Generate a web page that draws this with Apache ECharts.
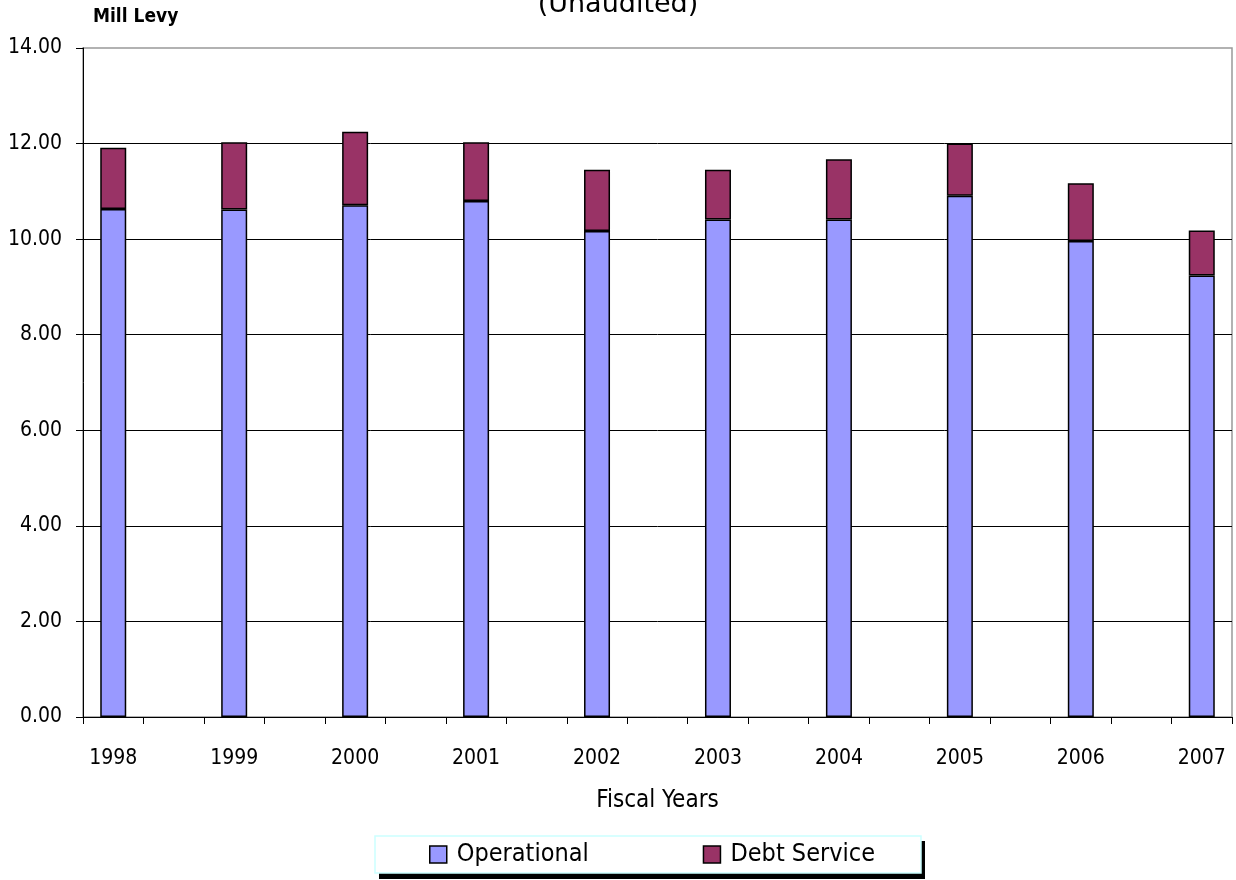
<!DOCTYPE html>
<html>
<head>
<meta charset="utf-8">
<script src="https://cdn.jsdelivr.net/npm/echarts@6/dist/echarts.min.js"></script>
<style>
  html, body { margin: 0; padding: 0; background: #fff; }
  #chart { width: 1236px; height: 880px; }
</style>
</head>
<body>
<div id="chart"></div>
<script>
// ---- data ----
const years = ['1998', '1999', '2000', '2001', '2002', '2003', '2004', '2005', '2006', '2007'];
const operational = [10.63, 10.62, 10.71, 10.80, 10.17, 10.41, 10.41, 10.91, 9.96, 9.24];
const debtService = [1.28, 1.41, 1.54, 1.23, 1.28, 1.04, 1.26, 1.09, 1.21, 0.94];
const yTicks = [0, 2, 4, 6, 8, 10, 12, 14];

// Excel-style layout: each year followed by an empty category slot
const categories = [];
const opSlots = [];
const dsSlots = [];
years.forEach((y, i) => {
  categories.push(y);
  opSlots.push(operational[i]);
  dsSlots.push(debtService[i]);
  if (i < years.length - 1) {
    categories.push('');
    opSlots.push('-');
    dsSlots.push('-');
  }
});

const FONT = "'DejaVu Sans Condensed', 'DejaVu Sans', sans-serif";
const chart = echarts.init(document.getElementById('chart'), null, { renderer: 'canvas' });

chart.setOption({
  animation: false,
  backgroundColor: '#ffffff',
  title: [
    {
      text: '(Unaudited)',
      left: 'center',
      top: -9,
      padding: 0,
      textStyle: { fontFamily: "'DejaVu Sans', sans-serif", fontSize: 27, fontWeight: 'normal', color: '#000' }
    },
    {
      text: 'Mill Levy',
      left: 93,
      top: 8,
      padding: 0,
      textStyle: { fontFamily: FONT, fontSize: 19, fontWeight: 'bold', color: '#000' }
    }
  ],
  // drop shadow behind the legend box (Excel style)
  graphic: [
    {
      type: 'rect',
      left: 379,
      top: 841,
      z: 1,
      silent: true,
      shape: { width: 546, height: 38 },
      style: { fill: '#000000' }
    }
  ],
  legend: {
    left: 375,
    top: 836,
    z: 10,
    orient: 'horizontal',
    itemWidth: 17,
    itemHeight: 17,
    itemGap: 114,
    padding: [6, 46, 6, 54],
    backgroundColor: '#ffffff',
    borderColor: '#ccffff',
    borderWidth: 1.5,
    icon: 'rect',
    itemStyle: { borderColor: '#000', borderWidth: 1.5 },
    textStyle: { fontFamily: FONT, fontSize: 25, color: '#000', padding: [0, 0, 0, 5] },
    data: ['Operational', 'Debt Service']
  },
  grid: {
    left: 83,
    right: 4,
    top: 48,
    bottom: 163,
    show: true,
    borderColor: '#999999',
    borderWidth: 1.5,
    backgroundColor: '#ffffff'
  },
  xAxis: {
    type: 'category',
    data: categories,
    name: 'Fiscal Years',
    nameLocation: 'middle',
    nameGap: 72,
    nameTextStyle: { fontFamily: FONT, fontSize: 24, color: '#000' },
    axisLine: { show: true, lineStyle: { color: '#000', width: 1 } },
    axisTick: { show: true, interval: 0, alignWithLabel: false, length: 7, lineStyle: { color: '#000' } },
    axisLabel: { interval: 0, margin: 31, fontFamily: FONT, fontSize: 21, color: '#000' },
    splitLine: { show: false }
  },
  yAxis: {
    type: 'value',
    min: yTicks[0],
    max: yTicks[yTicks.length - 1],
    interval: 2,
    axisLine: { show: true, lineStyle: { color: '#000', width: 1 } },
    axisTick: { show: true, length: 7, lineStyle: { color: '#000' } },
    axisLabel: {
      margin: 21,
      fontFamily: FONT,
      fontSize: 21,
      color: '#000',
      padding: [0, 0, 8, 0],
      formatter: v => v.toFixed(2)
    },
    splitLine: { show: true, showMaxLine: false, lineStyle: { color: '#000', width: 1 } }
  },
  series: [
    {
      name: 'Operational',
      type: 'bar',
      stack: 'levy',
      barWidth: 26,
      data: opSlots,
      itemStyle: { color: '#9999ff', borderColor: '#000', borderWidth: 1.5 }
    },
    {
      name: 'Debt Service',
      type: 'bar',
      stack: 'levy',
      barWidth: 26,
      data: dsSlots,
      itemStyle: { color: '#993366', borderColor: '#000', borderWidth: 1.5 }
    }
  ]
});
</script>
</body>
</html>
